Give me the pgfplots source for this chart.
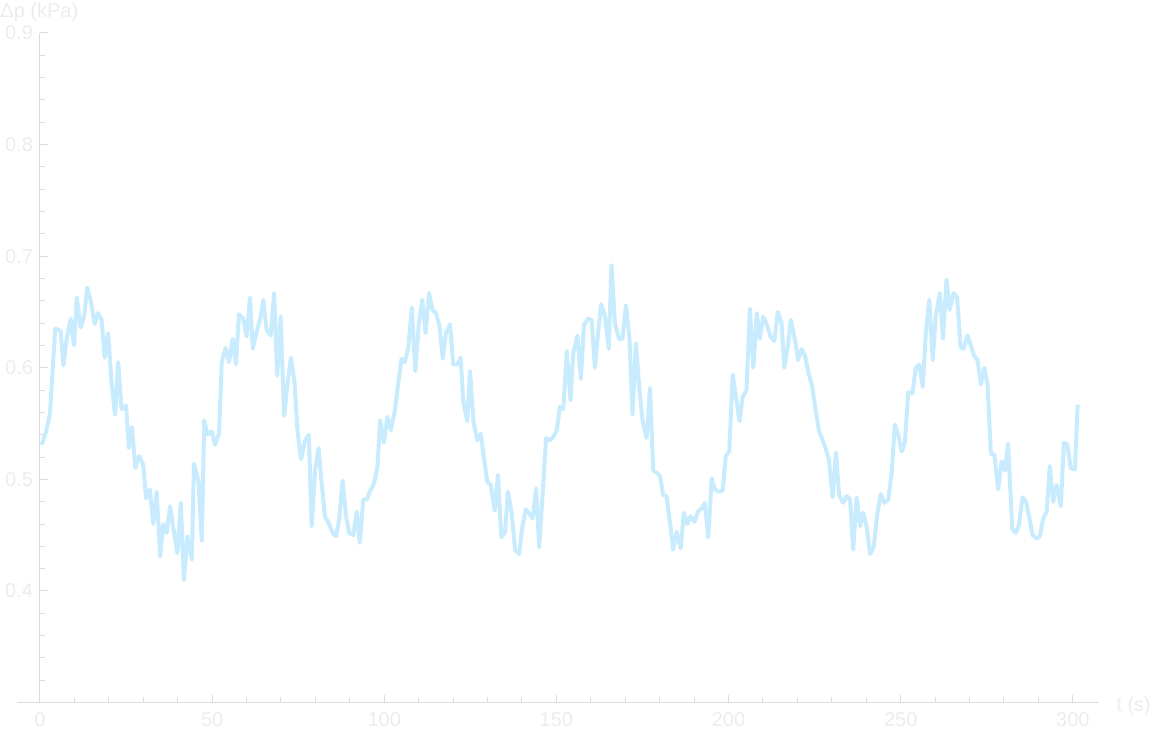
\documentclass[border=0pt]{standalone}
\usepackage{fontspec}
\setmainfont{Liberation Sans}
\usepackage{pgfplots}
\pgfplotsset{compat=1.18}

\definecolor{linecol}{RGB}{200,236,254}
\definecolor{axiscol}{RGB}{220,220,220}
\definecolor{labelcol}{RGB}{236,236,236}

% pressure difference
\pgfplotstableread{
t v
0.5 0.531
1.7 0.542
2.9 0.559
4.4 0.635
6.0 0.633
6.8 0.602
7.7 0.625
8.9 0.644
9.9 0.620
10.7 0.663
11.8 0.636
12.9 0.647
13.7 0.672
14.8 0.659
15.9 0.639
16.8 0.649
17.9 0.643
18.8 0.609
19.8 0.631
20.8 0.586
21.8 0.558
22.7 0.605
23.7 0.563
25.0 0.566
25.8 0.528
26.7 0.547
27.7 0.510
28.8 0.521
30.0 0.513
30.8 0.483
31.9 0.491
32.9 0.460
33.9 0.489
34.9 0.431
35.8 0.460
36.8 0.452
37.8 0.476
38.8 0.455
39.9 0.434
40.9 0.479
41.8 0.410
42.8 0.449
44.1 0.428
44.7 0.514
46.0 0.499
47.0 0.445
47.7 0.553
48.7 0.540
49.9 0.543
50.8 0.531
52.0 0.541
52.8 0.605
53.9 0.618
54.9 0.605
56.0 0.626
56.9 0.603
57.8 0.648
59.0 0.644
60.0 0.628
61.0 0.663
61.8 0.617
62.9 0.632
63.9 0.643
64.9 0.661
65.8 0.634
67.0 0.629
68.0 0.667
68.9 0.593
69.9 0.646
70.9 0.557
71.9 0.586
72.9 0.609
73.9 0.588
74.8 0.544
75.8 0.518
77.0 0.535
78.1 0.540
78.9 0.458
79.9 0.508
80.9 0.528
81.8 0.497
82.8 0.466
83.7 0.462
85.0 0.452
86.0 0.449
86.9 0.464
87.9 0.499
88.9 0.467
89.8 0.452
91.0 0.450
92.0 0.471
92.9 0.443
93.9 0.482
94.9 0.482
95.8 0.489
97.0 0.496
98.0 0.511
98.8 0.553
99.9 0.533
100.9 0.556
101.9 0.544
103.1 0.562
104.1 0.587
105.0 0.608
106.0 0.605
107.0 0.619
108.0 0.654
109.0 0.597
110.0 0.638
111.0 0.661
112.0 0.631
113.0 0.667
114.0 0.652
115.0 0.649
116.0 0.638
117.0 0.608
117.9 0.631
119.1 0.639
120.0 0.603
121.2 0.603
122.2 0.609
122.9 0.571
124.1 0.552
124.9 0.597
125.9 0.552
127.0 0.535
128.0 0.541
129.0 0.518
129.9 0.498
130.9 0.495
132.1 0.472
133.0 0.504
134.0 0.448
135.1 0.453
135.9 0.489
137.0 0.470
138.0 0.437
139.2 0.433
140.0 0.456
141.1 0.473
142.0 0.470
143.1 0.465
144.1 0.492
145.0 0.439
146.0 0.487
147.0 0.537
148.1 0.535
149.1 0.538
150.1 0.544
151.0 0.565
152.0 0.563
153.0 0.615
154.1 0.571
154.9 0.613
156.1 0.629
157.1 0.590
158.0 0.638
159.1 0.644
160.2 0.643
161.2 0.600
162.0 0.628
163.0 0.657
164.1 0.646
165.2 0.617
166.0 0.692
167.0 0.639
168.2 0.626
169.2 0.626
170.2 0.656
171.2 0.627
172.1 0.558
173.1 0.622
174.1 0.581
175.0 0.553
176.2 0.537
177.2 0.582
178.1 0.508
179.1 0.506
180.1 0.503
181.0 0.486
182.0 0.485
183.0 0.461
183.9 0.437
184.9 0.453
186.1 0.438
187.0 0.470
188.0 0.460
189.0 0.467
190.1 0.462
191.1 0.471
192.2 0.474
193.1 0.479
194.1 0.448
195.1 0.501
196.0 0.491
197.2 0.489
198.3 0.490
199.2 0.521
200.2 0.525
201.2 0.594
202.1 0.575
203.2 0.552
204.1 0.574
205.2 0.580
206.2 0.653
207.2 0.600
208.2 0.649
209.1 0.626
210.1 0.646
211.2 0.638
212.2 0.628
213.3 0.624
214.3 0.650
215.4 0.640
216.2 0.600
217.2 0.619
218.1 0.643
219.3 0.625
220.2 0.607
221.2 0.617
222.2 0.611
223.1 0.597
224.3 0.583
225.3 0.562
226.3 0.543
227.2 0.536
228.2 0.528
229.2 0.517
230.2 0.484
231.2 0.524
232.1 0.486
233.3 0.479
234.3 0.485
235.3 0.482
236.2 0.437
237.2 0.484
238.2 0.458
239.1 0.470
240.1 0.458
241.1 0.433
242.2 0.440
243.2 0.469
244.2 0.487
245.2 0.479
246.4 0.482
247.4 0.507
248.3 0.549
249.3 0.540
250.3 0.525
251.2 0.533
252.2 0.578
253.4 0.577
254.4 0.600
255.4 0.603
256.4 0.583
257.3 0.631
258.3 0.661
259.3 0.607
260.2 0.647
261.4 0.667
262.3 0.626
263.3 0.679
264.2 0.652
265.4 0.667
266.4 0.663
267.4 0.618
268.3 0.617
269.4 0.629
270.4 0.620
271.3 0.611
272.3 0.607
273.3 0.585
274.3 0.600
275.2 0.586
276.2 0.523
277.2 0.522
278.3 0.491
279.3 0.516
280.3 0.508
281.2 0.532
282.4 0.456
283.4 0.452
284.3 0.458
285.4 0.484
286.4 0.480
287.4 0.465
288.3 0.450
289.5 0.447
290.4 0.449
291.4 0.465
292.4 0.471
293.3 0.512
294.3 0.480
295.3 0.495
296.5 0.476
297.4 0.533
298.4 0.531
299.4 0.510
300.6 0.509
301.4 0.567
}\pressure

\begin{document}
\begin{tikzpicture}
\begin{axis}[
    at={(0,0)}, anchor=south west,
    scale only axis,
    width=529.5pt,
    height=334.8pt,
    xmin=0, xmax=307.6,
    ymin=0.3, ymax=0.9,
    axis x line=bottom,
    axis y line=left,
    axis line style={-, axiscol, line width=0.5pt},
    xtick={0,50,...,300},
    ytick={0.4,0.5,...,0.9},
    minor xtick={10,20,...,300},
    minor ytick={0.32,0.34,...,0.89},
    tick align=inside,
    major tick length=4pt,
    minor tick length=2.6pt,
    every tick/.style={axiscol, line width=0.5pt},
    tick label style={font=\fontsize{10}{12}\selectfont, text=labelcol},
    xticklabel style={yshift=-1.4pt},
    yticklabel style={/pgf/number format/.cd, fixed, fixed zerofill, precision=1},
    /pgf/number format/assume math mode=true,
    clip=false,
]
\addplot[linecol, line width=2pt, line join=round] table[x=t, y=v] {\pressure};
\end{axis}
% x axis line runs a little to the left of the y axis
\draw[axiscol, line width=0.5pt] (-11.5pt,0) -- (0,0);
\node[anchor=base west, inner sep=0pt, text=labelcol, font=\fontsize{10}{12}\selectfont]
    at (-20pt,342.6pt) {Δp (kPa)};
\node[anchor=base west, inner sep=0pt, text=labelcol, font=\fontsize{10}{12}\selectfont]
    at (538pt,-4.6pt) {t (s)};
\pgfresetboundingbox
\path (-20pt,-15.7pt) rectangle (556pt,351.3pt);
\end{tikzpicture}
\end{document}
